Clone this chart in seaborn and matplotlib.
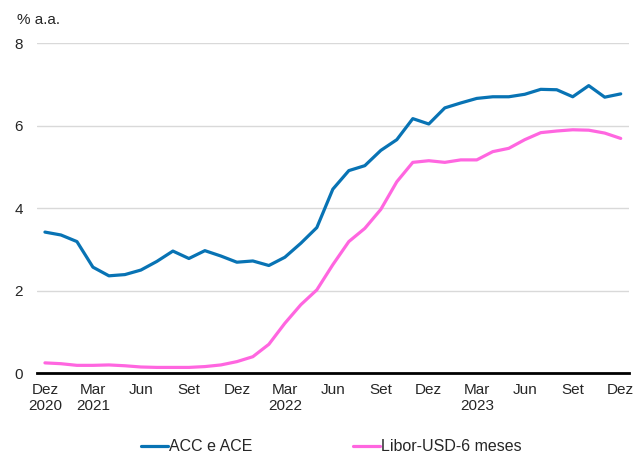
import pandas as pd
import numpy as np
import matplotlib
matplotlib.use('Agg')
import matplotlib.pyplot as plt
import seaborn as sns

# monthly, Dez 2020 .. Dez 2023
acc_ace = [3.42, 3.35, 3.19, 2.57, 2.36, 2.39, 2.50, 2.71, 2.96, 2.78,
           2.97, 2.84, 2.69, 2.72, 2.61, 2.81, 3.15, 3.53, 4.46, 4.91,
           5.03, 5.40, 5.66, 6.17, 6.04, 6.43, 6.55, 6.66, 6.70, 6.70,
           6.76, 6.88, 6.87, 6.70, 6.97, 6.69, 6.77]
libor = [0.25, 0.23, 0.19, 0.19, 0.20, 0.18, 0.15, 0.14, 0.14, 0.14,
         0.16, 0.20, 0.28, 0.40, 0.70, 1.21, 1.66, 2.02, 2.63, 3.19,
         3.51, 3.97, 4.64, 5.11, 5.15, 5.11, 5.17, 5.17, 5.37, 5.45,
         5.66, 5.83, 5.87, 5.90, 5.89, 5.82, 5.69]
tick_labels = ['Dez\n2020', 'Mar\n2021', 'Jun', 'Set', 'Dez', 'Mar\n2022', 'Jun',
               'Set', 'Dez', 'Mar\n2023', 'Jun', 'Set', 'Dez']
series_names = ['ACC e ACE', 'Libor-USD-6 meses']
colors = ['#0873B4', '#FF66E0']

n = len(acc_ace)
df = pd.DataFrame({
    'x': np.arange(n) + 0.5,
    series_names[0]: acc_ace,
    series_names[1]: libor,
}).melt(id_vars='x', var_name='serie', value_name='valor')

sns.set_style('white')
plt.rcParams['font.family'] = ['Liberation Sans', 'DejaVu Sans']

fig = plt.figure(figsize=(6.37, 4.54), dpi=100)
ax = fig.add_axes([0.058, 0.178, 0.929, 0.727])

sns.lineplot(data=df, x='x', y='valor', hue='serie', palette=colors,
             linewidth=2.3, ax=ax, legend=False)

ax.set_xlim(0, n)
ax.set_ylim(0, 8)
ax.set_yticks([0, 2, 4, 6, 8])

# tick marks on month boundaries, labels centred on the month
ax.set_xticks(np.arange(0, n + 1, 3))
ax.set_xticklabels([])
ax.set_xticks(np.arange(0, n, 3) + 0.5, minor=True)
ax.set_xticklabels(tick_labels, minor=True)
ax.tick_params(axis='x', which='major', direction='out', length=5, width=1.5,
               color='black')
ax.tick_params(axis='x', which='minor', length=0, labelsize=11, pad=7)
ax.tick_params(axis='y', length=0, labelsize=11, pad=10)
ax.set_xlabel('')
ax.set_ylabel('')

for y in [2, 4, 6, 8]:
    ax.axhline(y, color='#D9D9D9', linewidth=1, zorder=0)

for s in ['top', 'right', 'left']:
    ax.spines[s].set_visible(False)
ax.spines['bottom'].set_color('black')
ax.spines['bottom'].set_linewidth(2)

fig.text(0.027, 0.955, '% a.a.', fontsize=11, ha='left', va='center')

handles = [plt.Line2D([], [], color=c, linewidth=2.3) for c in colors]
fig.legend(handles, series_names, loc='center', bbox_to_anchor=(0.52, 0.016),
           ncol=2, frameon=False, fontsize=11.5, handlelength=1.7,
           handletextpad=0.05, columnspacing=6.3)

fig.savefig('out.png', dpi=100)
